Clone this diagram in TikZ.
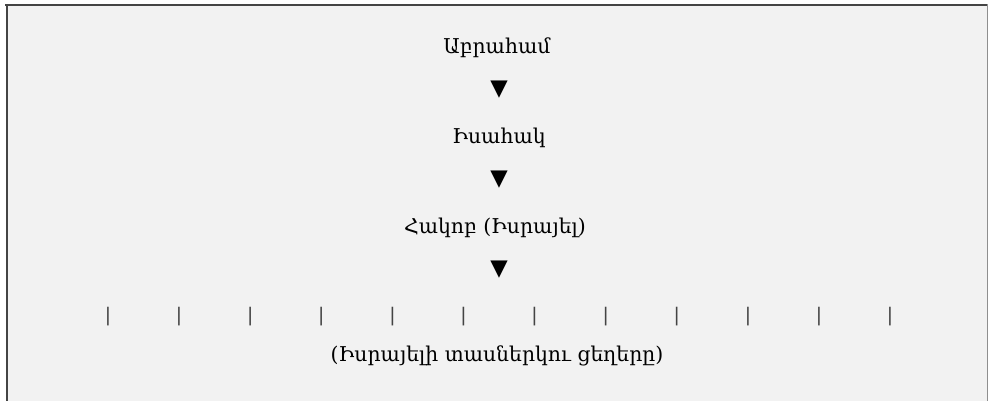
\documentclass[tikz,border=0pt]{standalone}
\usepackage{fontspec}
\newfontfamily\armfont{DejaVu Serif}
\newfontfamily\symfont{DejaVu Sans}
\definecolor{panelgray}{RGB}{242,242,242}
\definecolor{rulegray}{RGB}{68,68,68}
\tikzset{every picture/.style={line width=0.75pt}}
\tikzset{
  person/.style={font=\armfont\fontsize{15.3}{17}\selectfont, inner sep=0pt},
  down/.style={font=\symfont\fontsize{17}{19}\selectfont, inner sep=0pt},
  tribe/.style={font=\symfont\fontsize{14}{16}\selectfont, text=rulegray, inner sep=0pt}
}
\begin{document}
\begin{tikzpicture}[x=0.75pt,y=0.75pt,yscale=-1,xscale=1]
\useasboundingbox (0,0) rectangle (988,401);

%Shape: Panel
\fill [panelgray] (6,4) rectangle (988,401);
\draw [rulegray, line width=1.5pt] (5,4.5) -- (988,4.5);
\draw [rulegray, line width=1.5pt] (6.5,4) -- (6.5,401);
\draw [rulegray!60, line width=0.75pt] (987.5,4) -- (987.5,401);

% Text Node
\node [person] (abraham) at (497,48) {Աբրահամ};
% Text Node
\node [down] (arrowa) at (499,90) {▼};
% Text Node
\node [person] (isaac) at (499,138) {Իսահակ};
% Text Node
\node [down] (arrowb) at (499,180) {▼};
% Text Node
\node [person] (jacob) at (495,228) {Հակոբ (Իսրայել)};
% Text Node
\node [down] (arrowc) at (499,270) {▼};

% Tribes
\foreach \i in {0,...,11}
  \node [tribe] (tribe\i) at (108+71.1*\i,317) {|};

% Text Node
\node [person] (tribes) at (497,356) {(Իսրայելի տասներկու ցեղերը)};

\end{tikzpicture}
\end{document}
